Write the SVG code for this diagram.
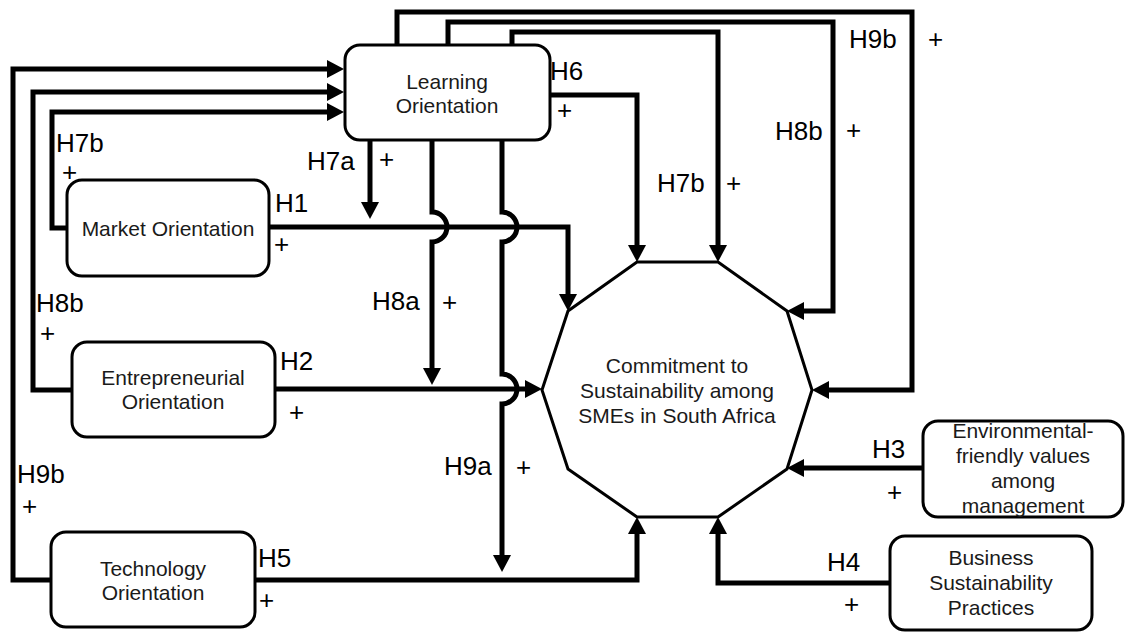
<svg xmlns="http://www.w3.org/2000/svg" width="1125" height="632" viewBox="0 0 1125 632">
<style>
.c{fill:none;stroke:#000;stroke-width:5;}
.b{fill:#fff;stroke:#000;stroke-width:3;}
.t{font-family:"Liberation Sans",Arial,sans-serif;font-size:21px;fill:#1a1a1a;text-anchor:middle;}
.h{font-family:"Liberation Sans",Arial,sans-serif;font-size:26px;fill:#000;}
</style>
<defs>
<marker id="a" markerUnits="userSpaceOnUse" markerWidth="17" markerHeight="18" refX="5" refY="9" orient="auto">
<path d="M0,0 L17,9 L0,18 z" fill="#000"/>
</marker>
</defs>
<rect width="1125" height="632" fill="#fff"/>
<g id="connectors">
<path class="c" marker-end="url(#a)" d="M51,580 H13 V69 H332"/>
<path class="c" marker-end="url(#a)" d="M72,390 H33 V92 H332"/>
<path class="c" marker-end="url(#a)" d="M67,228 H52 V112 H332"/>
<path class="c" marker-end="url(#a)" d="M269,227 H568 V299"/>
<path class="c" marker-end="url(#a)" d="M275,389 H530"/>
<path class="c" marker-end="url(#a)" d="M255,580 H637 V529"/>
<path class="c" marker-end="url(#a)" d="M890,583 H718 V529"/>
<path class="c" marker-end="url(#a)" d="M923,468 H799"/>
<path class="c" marker-end="url(#a)" d="M550,95 H637 V250"/>
<path class="c" marker-end="url(#a)" d="M512,45 V32 H718 V250"/>
<path class="c" marker-end="url(#a)" d="M448,45 V22 H833 V311 H799"/>
<path class="c" marker-end="url(#a)" d="M397,45 V12 H912 V390 H824"/>
<path class="c" marker-end="url(#a)" d="M370,140 V207"/>
<path class="c" marker-end="url(#a)" d="M432,140 V212 A15,15 0 0 1 432,242 V373"/>
<path class="c" marker-end="url(#a)" d="M502,140 V212 A15,15 0 0 1 502,242 V374 A15,15 0 0 1 502,404 V560"/>
</g>
<g id="commitment">
<polygon class="b" points="637,262 718,262 787,311 812,390 787,469 718,517 637,517 568,469 542,390 568,311"/>
<text class="t" x="677" y="373">Commitment to</text>
<text class="t" x="677" y="398">Sustainability among</text>
<text class="t" x="677" y="423">SMEs in South Africa</text>
</g>
<g id="learning">
<rect class="b" x="345" y="45" width="205" height="95" rx="15"/>
<text class="t" x="447" y="89">Learning</text>
<text class="t" x="447" y="113">Orientation</text>
</g>
<g id="market">
<rect class="b" x="67" y="180" width="202" height="96" rx="15"/>
<text class="t" x="168" y="236">Market Orientation</text>
</g>
<g id="entrepreneurial">
<rect class="b" x="72" y="342" width="203" height="95" rx="15"/>
<text class="t" x="173" y="385">Entrepreneurial</text>
<text class="t" x="173" y="409">Orientation</text>
</g>
<g id="technology">
<rect class="b" x="51" y="532" width="204" height="95" rx="15"/>
<text class="t" x="153" y="576">Technology</text>
<text class="t" x="153" y="600">Orientation</text>
</g>
<g id="environmental">
<rect class="b" x="923" y="421" width="200" height="96" rx="15"/>
<text class="t" x="1023" y="438">Environmental-</text>
<text class="t" x="1023" y="463">friendly values</text>
<text class="t" x="1023" y="488">among</text>
<text class="t" x="1023" y="513">management</text>
</g>
<g id="business">
<rect class="b" x="890" y="536" width="202" height="94" rx="15"/>
<text class="t" x="991" y="565">Business</text>
<text class="t" x="991" y="590">Sustainability</text>
<text class="t" x="991" y="615">Practices</text>
</g>
<g id="labels">
<text class="h" x="56" y="152">H7b</text>
<text class="h" x="62" y="181">+</text>
<text class="h" x="36" y="312">H8b</text>
<text class="h" x="40" y="342">+</text>
<text class="h" x="17" y="483">H9b</text>
<text class="h" x="22" y="515">+</text>
<text class="h" x="275" y="212">H1</text>
<text class="h" x="274" y="253">+</text>
<text class="h" x="307" y="170">H7a</text>
<text class="h" x="379" y="168">+</text>
<text class="h" x="550" y="80">H6</text>
<text class="h" x="557" y="119">+</text>
<text class="h" x="657" y="192">H7b</text>
<text class="h" x="726" y="192">+</text>
<text class="h" x="775" y="140">H8b</text>
<text class="h" x="846" y="139">+</text>
<text class="h" x="849" y="48">H9b</text>
<text class="h" x="928" y="48">+</text>
<text class="h" x="372" y="310">H8a</text>
<text class="h" x="442" y="311">+</text>
<text class="h" x="280" y="370">H2</text>
<text class="h" x="289" y="421">+</text>
<text class="h" x="444" y="475">H9a</text>
<text class="h" x="516" y="476">+</text>
<text class="h" x="258" y="567">H5</text>
<text class="h" x="259" y="609">+</text>
<text class="h" x="872" y="458">H3</text>
<text class="h" x="887" y="501">+</text>
<text class="h" x="827" y="571">H4</text>
<text class="h" x="844" y="613">+</text>
</g>
</svg>
